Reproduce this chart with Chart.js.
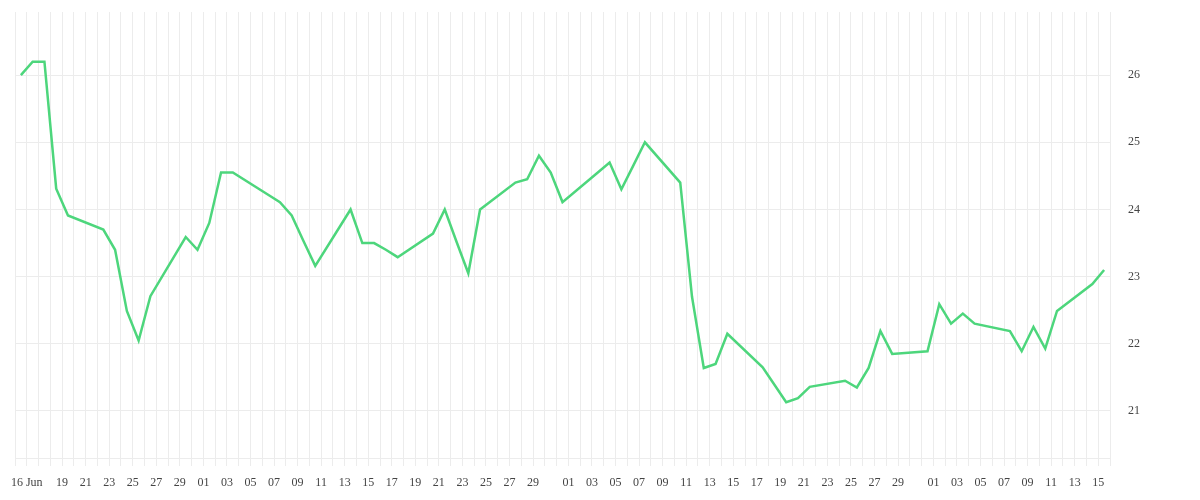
<!DOCTYPE html>
<html>
<head>
<meta charset="utf-8">
<script src="https://cdn.jsdelivr.net/npm/chart.js@4.4.0/dist/chart.umd.min.js"></script>
<style>
html,body{margin:0;padding:0;background:#fff;}
</style>
</head>
<body>
<canvas id="c" width="1200" height="500"></canvas>
<script>
// ---- data ----
const dates = [
  '2020-06-15','2020-06-16','2020-06-17','2020-06-18','2020-06-19',
  '2020-06-22','2020-06-23','2020-06-24','2020-06-25','2020-06-26',
  '2020-06-29','2020-06-30','2020-07-01','2020-07-02','2020-07-03',
  '2020-07-06','2020-07-07','2020-07-08','2020-07-09','2020-07-10',
  '2020-07-13','2020-07-14','2020-07-15','2020-07-16','2020-07-17',
  '2020-07-20','2020-07-21','2020-07-22','2020-07-23','2020-07-24',
  '2020-07-27','2020-07-28','2020-07-29','2020-07-30','2020-07-31',
  '2020-08-03','2020-08-04','2020-08-05','2020-08-06','2020-08-07',
  '2020-08-10','2020-08-11','2020-08-12','2020-08-13','2020-08-14',
  '2020-08-17','2020-08-18','2020-08-19','2020-08-20','2020-08-21',
  '2020-08-24','2020-08-25','2020-08-26','2020-08-27','2020-08-28',
  '2020-08-31','2020-09-01','2020-09-02','2020-09-03','2020-09-04',
  '2020-09-07','2020-09-08','2020-09-09','2020-09-10','2020-09-11',
  '2020-09-14','2020-09-15'
];
const values = [
  26.00, 26.20, 26.20, 24.31, 23.91,
  23.70, 23.40, 22.49, 22.05, 22.71,
  23.59, 23.40, 23.80, 24.55, 24.55,
  24.22, 24.11, 23.91, 23.53, 23.16,
  24.00, 23.50, 23.50, 23.40, 23.29,
  23.64, 24.00, 23.52, 23.05, 24.00,
  24.40, 24.45, 24.80, 24.55, 24.11,
  24.55, 24.70, 24.30, 24.65, 25.00,
  24.40, 22.70, 21.64, 21.70, 22.15,
  21.65, 21.39, 21.13, 21.19, 21.36,
  21.45, 21.35, 21.64, 22.19, 21.85,
  21.89, 22.59, 22.30, 22.45, 22.30,
  22.19, 21.89, 22.25, 21.93, 22.49,
  22.89, 23.10
];
const sampleTime = 'T12:00:00Z';      // each value is stamped at midday
const axisStart = '2020-06-15';        // left edge of the time axis
const axisEnd = '2020-09-16';          // right edge of the time axis
const firstLabel = '16 Jun';           // label of the first labelled day
const yTicks = [21, 22, 23, 24, 25, 26];
const yMin = 20.3;
const yMax = 26.94;

// ---- helpers ----
const DAY = 864e5;
const t0 = Date.parse(axisStart + 'T00:00:00Z');
const toDay = iso => (Date.parse(iso) - t0) / DAY;
const lastDay = toDay(axisEnd + 'T00:00:00Z');
const dayTicks = [];
for (let d = 0; d <= lastDay; d++) dayTicks.push(d);

function dayLabel(d) {
  const dt = new Date(t0 + d * DAY);
  const day = dt.getUTCDate();
  if (d === 1) return firstLabel;
  if (d < 4) return '';
  if (day % 2 === 1 && day !== 31) return String(day).padStart(2, '0');
  return '';
}

const points = dates.map((s, i) => ({x: toDay(s + sampleTime), y: values[i]}));

const FONT = {family: "'Liberation Serif', serif", size: 12};
const GRID = '#ececec';

function noPad(s) { s.paddingTop = 0; s.paddingBottom = 0; s.paddingLeft = 0; s.paddingRight = 0; }

new Chart(document.getElementById('c'), {
  type: 'line',
  data: {
    datasets: [{
      data: points,
      borderColor: '#4dd67c',
      borderWidth: 2.5,
      pointRadius: 0,
      tension: 0,
      fill: false
    }]
  },
  options: {
    responsive: false,
    animation: false,
    devicePixelRatio: 1,
    layout: {padding: {left: 15, top: 12, right: 0, bottom: 0}},
    plugins: {legend: {display: false}, tooltip: {enabled: false}},
    scales: {
      x: {
        type: 'linear',
        min: 0,
        max: lastDay,
        afterBuildTicks: s => { s.ticks = dayTicks.map(v => ({value: v})); },
        afterFit: s => { s.height = 42; noPad(s); },
        grid: {color: GRID, tickLength: 8, drawTicks: true},
        border: {color: GRID},
        ticks: {
          autoSkip: false,
          maxRotation: 0,
          minRotation: 0,
          padding: 10,
          font: FONT,
          color: '#444',
          callback: v => dayLabel(v)
        }
      },
      y: {
        position: 'right',
        min: yMin,
        max: yMax,
        afterBuildTicks: s => { s.ticks = yTicks.map(v => ({value: v})); },
        afterFit: s => { s.width = 90; noPad(s); },
        grid: {color: GRID, drawTicks: false},
        border: {display: false},
        ticks: {padding: 18, font: FONT, color: '#444'}
      }
    }
  }
});
</script>
</body>
</html>
